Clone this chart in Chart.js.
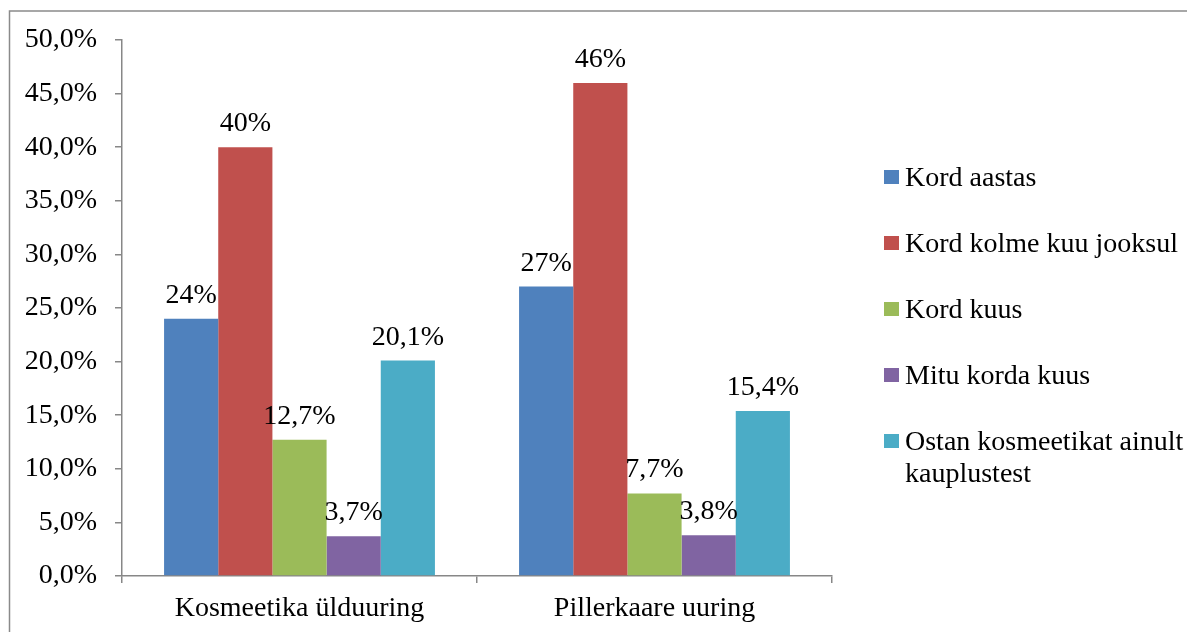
<!DOCTYPE html>
<html>
<head>
<meta charset="utf-8">
<script src="https://cdn.jsdelivr.net/npm/chart.js@4.4.1/dist/chart.umd.min.js"></script>
<style>
  html, body { margin: 0; padding: 0; background: #ffffff; overflow: hidden; }
  #wrap { position: relative; width: 1187px; height: 632px; }
</style>
</head>
<body>
<div id="wrap"><canvas id="c" width="1187" height="632"></canvas></div>
<script>
// Survey groups on the x axis
const categories = ['Kosmeetika ülduuring', 'Pillerkaare uuring'];

// Series names, in legend order
const seriesNames = [
  'Kord aastas',
  'Kord kolme kuu jooksul',
  'Kord kuus',
  'Mitu korda kuus',
  'Ostan kosmeetikat ainult kauplustest'
];

// Share of respondents (%) per survey
const kordAastas = [24, 27];
const kordKolmeKuuJooksul = [40, 46];
const kordKuus = [12.7, 7.7];
const mituKordaKuus = [3.7, 3.8];
const ainultKauplustest = [20.1, 15.4];

// Y axis tick values (%)
const yTicks = [0, 5, 10, 15, 20, 25, 30, 35, 40, 45, 50];

const seriesValues = [kordAastas, kordKolmeKuuJooksul, kordKuus, mituKordaKuus, ainultKauplustest];
const seriesColors = ['#4F81BD', '#C0504D', '#9BBB59', '#8064A2', '#4BACC6'];

const FONT = '"Liberation Serif", "Times New Roman", serif';
const FONT_SIZE = 28;
const AXIS_GRAY = '#878787';

const pct1 = v => v.toFixed(1).replace('.', ',') + '%';
const valueLabel = v => (Number.isInteger(v) ? String(v) : v.toFixed(1).replace('.', ',')) + '%';

// Outer frame around the whole figure
const framePlugin = {
  id: 'frame',
  beforeDraw(chart) {
    const ctx = chart.ctx;
    ctx.save();
    ctx.fillStyle = '#ffffff';
    ctx.fillRect(0, 0, chart.width, chart.height);
    ctx.strokeStyle = '#8a8a8a';
    ctx.lineWidth = 1.5;
    ctx.beginPath();
    ctx.moveTo(chart.width + 2, 11);
    ctx.lineTo(9.5, 11);
    ctx.lineTo(9.5, chart.height + 2);
    ctx.stroke();
    ctx.restore();
  }
};

// Value labels above each bar
const valueLabelPlugin = {
  id: 'valueLabels',
  afterDatasetsDraw(chart) {
    const ctx = chart.ctx;
    ctx.save();
    ctx.font = FONT_SIZE + 'px ' + FONT;
    ctx.fillStyle = '#000000';
    ctx.textAlign = 'center';
    ctx.textBaseline = 'alphabetic';
    chart.data.datasets.forEach((ds, di) => {
      const meta = chart.getDatasetMeta(di);
      meta.data.forEach((bar, i) => {
        ctx.fillText(valueLabel(ds.data[i]), bar.x, bar.y - 16);
      });
    });
    ctx.restore();
  }
};

// Legend on the right, with wrapping for long names
const sideLegendPlugin = {
  id: 'sideLegend',
  afterDraw(chart) {
    const ctx = chart.ctx;
    const boxX = 884, textX = 905, firstBaseline = 186, rowStep = 66, lineStep = 32, maxW = 300;
    ctx.save();
    ctx.font = FONT_SIZE + 'px ' + FONT;
    ctx.textAlign = 'left';
    ctx.textBaseline = 'alphabetic';
    let baseline = firstBaseline;
    chart.data.datasets.forEach(ds => {
      // wrap words to the available width
      const words = ds.label.split(' ');
      const lines = [];
      let line = '';
      words.forEach(w => {
        const test = line ? line + ' ' + w : w;
        if (line && ctx.measureText(test).width > maxW) { lines.push(line); line = w; }
        else line = test;
      });
      lines.push(line);
      ctx.fillStyle = ds.backgroundColor;
      ctx.fillRect(boxX, baseline - 16, 15, 14);
      ctx.fillStyle = '#000000';
      lines.forEach((l, k) => ctx.fillText(l, textX, baseline + k * lineStep));
      baseline += rowStep;
    });
    ctx.restore();
  }
};

new Chart(document.getElementById('c'), {
  type: 'bar',
  data: {
    labels: categories,
    datasets: seriesNames.map((name, i) => ({
      label: name,
      data: seriesValues[i],
      backgroundColor: seriesColors[i],
      borderWidth: 0,
      barPercentage: 1.0,
      categoryPercentage: 0.763
    }))
  },
  options: {
    responsive: false,
    animation: false,
    devicePixelRatio: 1,
    layout: { padding: { left: 0, top: 40, right: 1187 - 832, bottom: 0 } },
    plugins: {
      legend: { display: false },
      tooltip: { enabled: false },
      title: { display: false }
    },
    scales: {
      x: {
        offset: true,
        grid: {
          offset: true,
          drawOnChartArea: false,
          drawTicks: true,
          tickLength: 7,
          color: AXIS_GRAY,
          lineWidth: 1.5
        },
        border: { display: true, color: AXIS_GRAY, width: 1.5 },
        ticks: {
          color: '#000000',
          font: { family: FONT, size: FONT_SIZE },
          padding: 9,
          maxRotation: 0,
          autoSkip: false
        },
        afterFit(scale) { scale.height = 632 - 576; }
      },
      y: {
        min: 0,
        max: 50,
        afterBuildTicks(scale) { scale.ticks = yTicks.map(v => ({ value: v })); },
        grid: {
          drawOnChartArea: false,
          drawTicks: true,
          tickLength: 7,
          color: AXIS_GRAY,
          lineWidth: 1.5
        },
        border: { display: true, color: AXIS_GRAY, width: 1.5 },
        ticks: {
          color: '#000000',
          font: { family: FONT, size: FONT_SIZE },
          padding: 18,
          callback: v => pct1(v)
        },
        afterFit(scale) { scale.width = 122; }
      }
    }
  },
  plugins: [framePlugin, valueLabelPlugin, sideLegendPlugin]
});
</script>
</body>
</html>
